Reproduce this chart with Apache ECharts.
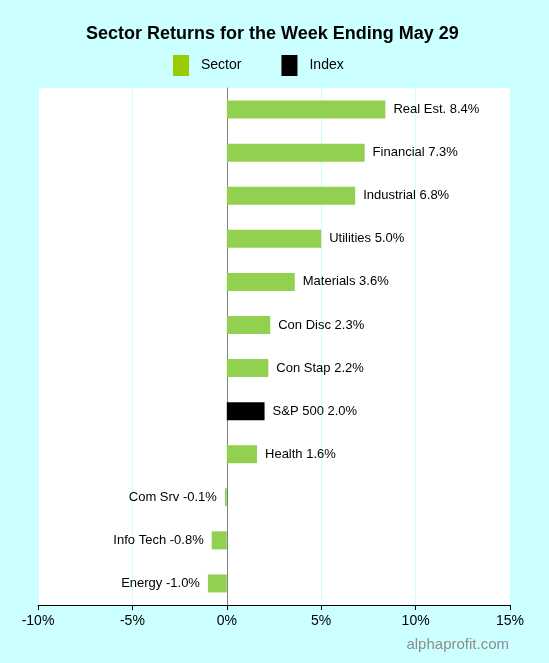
<!DOCTYPE html>
<html><head><meta charset="utf-8">
<script src="https://cdn.jsdelivr.net/npm/echarts@6/dist/echarts.min.js"></script>
<style>html,body{margin:0;padding:0;background:#ccffff;}#c{width:549px;height:663px;}</style>
</head><body><div id="c"></div>
<script>
var categories = ["Real Est.", "Financial", "Industrial", "Utilities", "Materials", "Con Disc", "Con Stap", "S&P 500", "Health", "Com Srv", "Info Tech", "Energy"];
var values = [8.4, 7.3, 6.8, 5.0, 3.6, 2.3, 2.2, 2.0, 1.6, -0.1, -0.8, -1.0];
var indexName = "S&P 500";
var xTicks = [-10, -5, 0, 5, 10, 15];

function mk(isIndex) {
  return categories.map(function (c, i) {
    var match = (c === indexName) === isIndex;
    if (!match) return null;
    return {
      value: values[i],
      label: { position: values[i] < 0 ? 'left' : 'right' }
    };
  });
}
var FF = 'Liberation Sans, Arial, sans-serif';
var lbl = {
  show: true, distance: 8, color: '#000', fontFamily: FF, fontSize: 13,
  formatter: function (p) { return p.name + ' ' + p.value.toFixed(1) + '%'; }
};
var chart = echarts.init(document.getElementById('c'));
chart.setOption({
  backgroundColor: '#ccffff',
  animation: false,
  title: { text: 'Sector Returns for the Week Ending May 29', left: 81, top: 20,
    textStyle: { fontFamily: FF, fontWeight: 'bold', fontSize: 18, color: '#000' } },
  legend: {
    top: 50, left: 168, itemWidth: 16, itemHeight: 21, itemGap: 40, icon: 'rect',
    textStyle: { fontFamily: FF, fontSize: 14, color: '#000', padding: [0, 0, 0, 7] },
    data: [{ name: 'Sector', itemStyle: { color: '#99cc00' } }, { name: 'Index', itemStyle: { color: '#000' } }]
  },
  grid: { left: 38, right: 39, top: 88, bottom: 58, show: true, backgroundColor: '#fff', borderWidth: 0 },
  xAxis: {
    type: 'value', min: -10, max: 15, interval: 5,
    axisLine: { show: true, onZero: false, lineStyle: { color: '#000', width: 1 } },
    axisTick: { show: true, length: 5, lineStyle: { color: '#000' } },
    axisLabel: { formatter: function (v) { return v + '%'; }, fontFamily: FF, fontSize: 14, color: '#000', margin: 9 },
    splitLine: { show: true, lineStyle: { color: '#ccffff' } }
  },
  yAxis: {
    type: 'category', inverse: true, data: categories,
    axisLine: { show: true, onZero: true, lineStyle: { color: '#808080', width: 1 } },
    axisTick: { show: false }, axisLabel: { show: false }
  },
  series: [
    { name: 'Sector', type: 'bar', stack: 's', barWidth: 18, itemStyle: { color: '#92d050' }, label: lbl, data: mk(false) },
    { name: 'Index', type: 'bar', stack: 's', barWidth: 18, itemStyle: { color: '#000' }, label: lbl, data: mk(true) }
  ],
  graphic: [{ type: 'text', right: 40, top: 637, style: { text: 'alphaprofit.com', fill: '#8c8c8c', fontFamily: FF, fontSize: 15 } }]
});
</script></body></html>
